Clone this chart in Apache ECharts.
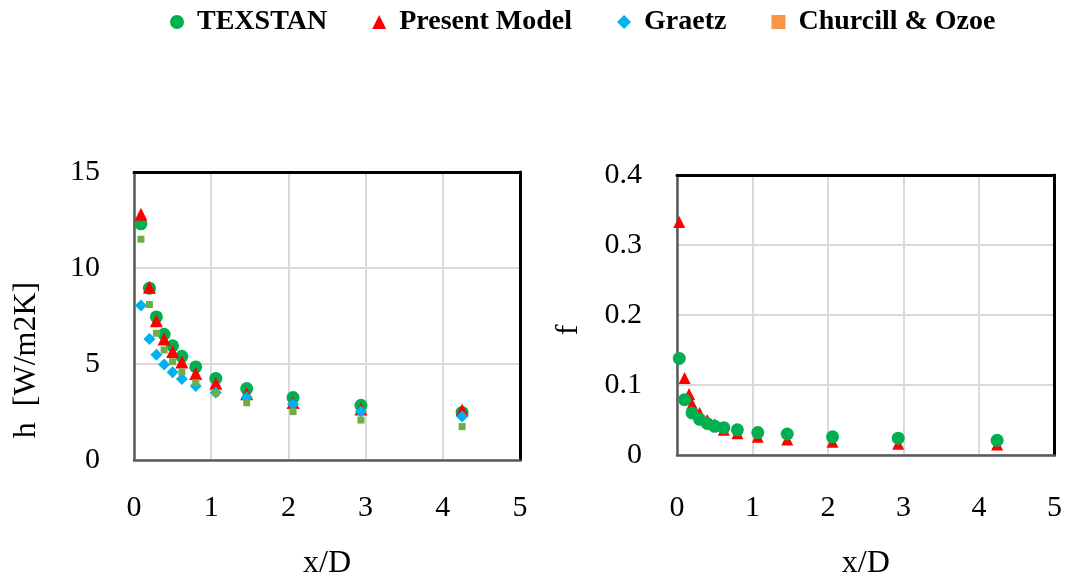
<!DOCTYPE html>
<html>
<head>
<meta charset="utf-8">
<script src="https://cdn.jsdelivr.net/npm/echarts@6/dist/echarts.min.js"></script>
<style>html,body{margin:0;padding:0;background:#fff}#c{width:1065px;height:582px}</style>
</head>
<body>
<div id="c"></div>
<script>
// x/D positions
const xH = [0.09, 0.2, 0.29, 0.39, 0.5, 0.62, 0.8, 1.06, 1.46, 2.06, 2.94, 4.25];
// h [W/m2K]
const hTexstan = [12.3, 8.95, 7.45, 6.55, 5.95, 5.4, 4.85, 4.25, 3.72, 3.25, 2.85, 2.48];
const hPresent = [12.8, 9.0, 7.25, 6.3, 5.65, 5.1, 4.5, 4.0, 3.45, 3.0, 2.65, 2.6];
const hGraetz = [8.05, 6.3, 5.48, 4.97, 4.57, 4.22, 3.85, 3.52, 3.25, 2.9, 2.52, 2.26];
const hChurchill = [11.5, 8.1, 6.6, 5.73, 5.12, 4.58, 4.03, 3.49, 2.98, 2.52, 2.08, 1.74];
// f
const xFTexstan = [0.03, 0.1, 0.2, 0.3, 0.4, 0.5, 0.62, 0.8, 1.07, 1.46, 2.06, 2.93, 4.24];
const fTexstan = [0.138, 0.079, 0.060, 0.051, 0.045, 0.041, 0.039, 0.036, 0.032, 0.030, 0.026, 0.024, 0.021];
const xFPresent = [0.03, 0.1, 0.16, 0.2, 0.3, 0.4, 0.5, 0.62, 0.8, 1.07, 1.46, 2.06, 2.93, 4.24];
const fPresent = [0.333, 0.110, 0.087, 0.073, 0.060, 0.050, 0.044, 0.036, 0.031, 0.026, 0.022, 0.019, 0.016, 0.015];

const names = ['TEXSTAN', 'Present Model', 'Graetz', 'Churcill & Ozoe'];
const colors = { tex: '#00B050', pm: '#FF0000', gr: '#00B0F0', ch: '#70AD47', chLegend: '#F79646' };

const pair = (xs, ys) => xs.map((x, i) => [x, ys[i]]);
const FONT = 'Liberation Serif';

function mainAxis(extra) {
  return Object.assign({
    type: 'value',
    axisLine: { show: true, onZero: false, lineStyle: { color: '#595959', width: 2.5 } },
    axisTick: { show: false },
    splitLine: { show: true, lineStyle: { color: '#d9d9d9', width: 2 } },
    axisLabel: { color: '#000', fontFamily: FONT, fontSize: 30, margin: extra.margin },
    nameTextStyle: Object.assign({ color: '#000', fontFamily: FONT, fontSize: 32 }, extra.nameStyle || {})
  }, extra.opts);
}
function frameAxis(opts) {
  return Object.assign({
    type: 'value',
    axisLine: { show: true, onZero: false, lineStyle: { color: '#000', width: 3 } },
    axisTick: { show: false }, axisLabel: { show: false }, splitLine: { show: false }
  }, opts);
}

const option = {
  animation: false,
  backgroundColor: '#fff',
  legend: {
    top: 3, left: 165, itemGap: 45, itemWidth: 14, itemHeight: 14,
    textStyle: { fontFamily: FONT, fontSize: 28, fontWeight: 'bold', color: '#000', padding: [0, 0, 0, 8] },
    data: [
      { name: names[0], icon: 'circle' },
      { name: names[1], icon: 'triangle' },
      { name: names[2], icon: 'diamond' },
      { name: names[3], icon: 'rect', itemStyle: { color: colors.chLegend } }
    ]
  },
  grid: [
    { left: 134, top: 172, width: 386, height: 288, show: false, containLabel: false },
    { left: 677, top: 175, width: 380, height: 280, show: false, containLabel: false }
  ],
  xAxis: [
    mainAxis({ margin: 33, opts: { gridIndex: 0, min: 0, max: 5, interval: 1, name: 'x/D', nameLocation: 'middle', nameGap: 88 } }),
    mainAxis({ margin: 38, opts: { gridIndex: 1, min: 0, max: 5, interval: 1, name: 'x/D', nameLocation: 'middle', nameGap: 93 } }),
    frameAxis({ gridIndex: 0, position: 'top', min: 0, max: 5 }),
    frameAxis({ gridIndex: 1, position: 'top', min: 0, max: 5 })
  ],
  yAxis: [
    mainAxis({ margin: 34, nameStyle: { padding: [0, 88, 0, 0] }, opts: { gridIndex: 0, min: 0, max: 15, interval: 5, name: 'h  [W/m2K]', nameLocation: 'middle', nameGap: 91 } }),
    mainAxis({ margin: 35, nameStyle: { padding: [0, 30, 0, 0] }, opts: { gridIndex: 1, min: 0, max: 0.4, interval: 0.1, name: 'f', nameLocation: 'middle', nameGap: 92 } }),
    frameAxis({ gridIndex: 0, position: 'right', min: 0, max: 15 }),
    frameAxis({ gridIndex: 1, position: 'right', min: 0, max: 0.4 })
  ],
  series: [
    { name: names[0], type: 'scatter', xAxisIndex: 0, yAxisIndex: 0, symbol: 'circle', symbolSize: 13, z: 2, itemStyle: { color: colors.tex, opacity: 1 }, data: pair(xH, hTexstan) },
    { name: names[1], type: 'scatter', xAxisIndex: 0, yAxisIndex: 0, symbol: 'triangle', symbolSize: 13, z: 3, itemStyle: { color: colors.pm, opacity: 1 }, data: pair(xH, hPresent) },
    { name: names[2], type: 'scatter', xAxisIndex: 0, yAxisIndex: 0, symbol: 'diamond', symbolSize: 12, z: 4, itemStyle: { color: colors.gr, opacity: 1 }, data: pair(xH, hGraetz) },
    { name: names[3], type: 'scatter', xAxisIndex: 0, yAxisIndex: 0, symbol: 'rect', symbolSize: 7, z: 5, itemStyle: { color: colors.ch, opacity: 1 }, data: pair(xH, hChurchill) },
    { name: names[1], type: 'scatter', xAxisIndex: 1, yAxisIndex: 1, symbol: 'triangle', symbolSize: 12, z: 2, itemStyle: { color: colors.pm, opacity: 1 }, data: pair(xFPresent, fPresent) },
    { name: names[0], type: 'scatter', xAxisIndex: 1, yAxisIndex: 1, symbol: 'circle', symbolSize: 13, z: 3, itemStyle: { color: colors.tex, opacity: 1 }, data: pair(xFTexstan, fTexstan) }
  ]
};

const chart = echarts.init(document.getElementById('c'), null, { renderer: 'canvas' });
chart.setOption(option);
</script>
</body>
</html>
